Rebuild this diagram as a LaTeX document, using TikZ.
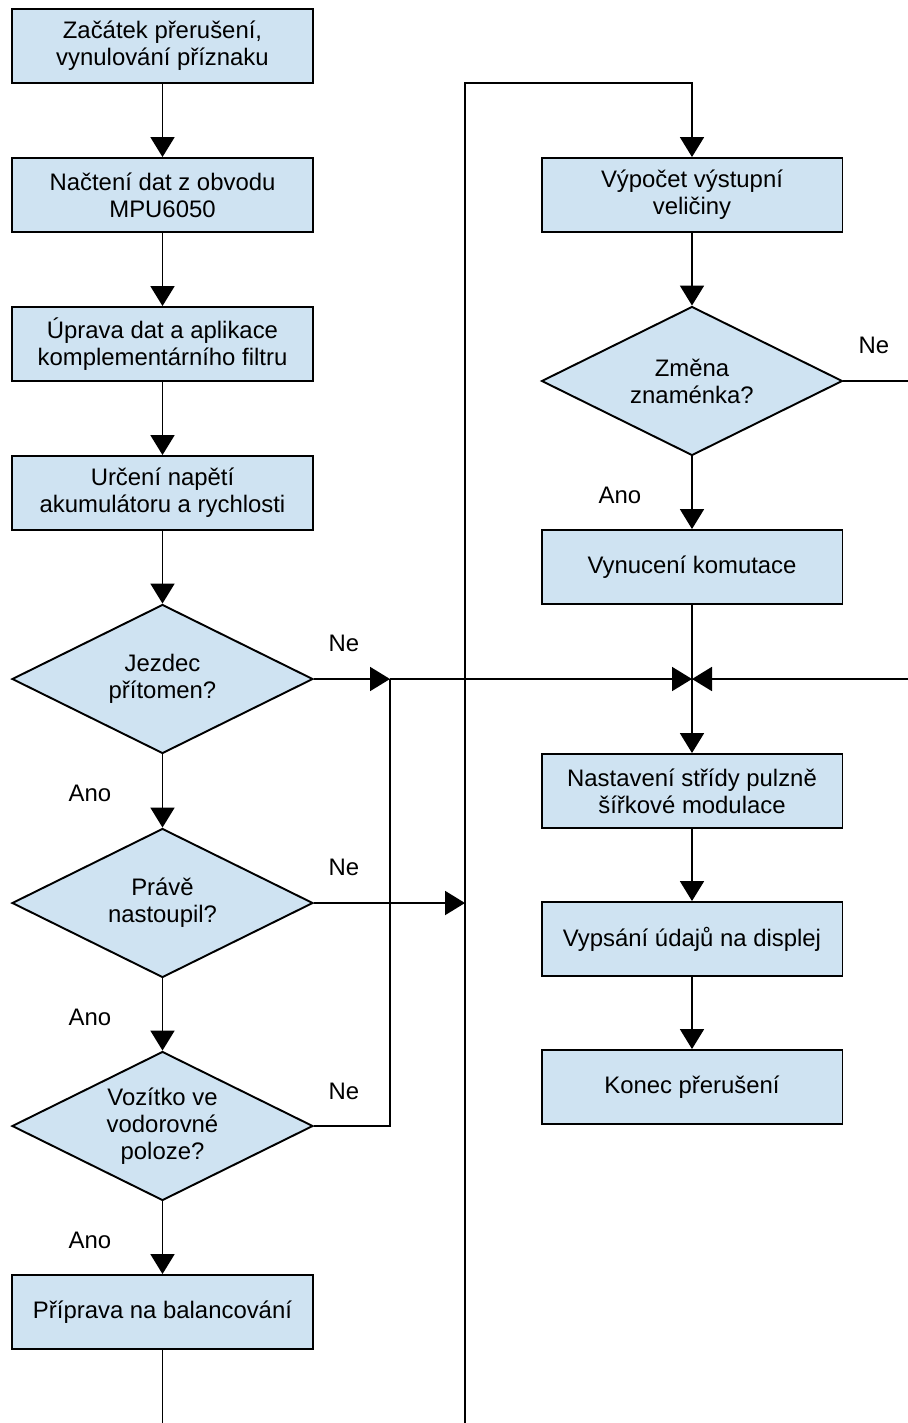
\documentclass[tikz,border=0pt]{standalone}
\usepackage{fontspec}
\setmainfont{Liberation Sans}
\usetikzlibrary{arrows.meta,shapes.geometric,positioning}
\definecolor{boxblue}{RGB}{207,227,242}
\newcommand{\boxfont}{\fontsize{13.6}{15.4}\selectfont}

\begin{document}
\begin{tikzpicture}[x=0.02cm,y=-0.02cm,>={Triangle[length=0.4cm,width=0.48cm]},line width=1.1pt,
box/.style={rectangle, draw, fill=boxblue, minimum width=6.02cm, minimum height=1.48cm, inner sep=0pt, align=center, font=\boxfont},
test/.style={diamond, draw, fill=boxblue, aspect=2, minimum width=6.02cm, minimum height=2.98cm, inner sep=0pt, align=center, font=\boxfont},
lbl/.style={font=\boxfont}]
\useasboundingbox (0,0) rectangle (908,1423);
% left column
\node (start) at (162.5,46) [box] {Začátek přerušení,\\vynulování příznaku};
\node (read) at (162.5,195) [box] {Načtení dat z obvodu\\MPU6050};
\node (filter) at (162.5,344) [box] {Úprava dat a aplikace\\komplementárního filtru};
\node (volt) at (162.5,493) [box] {Určení napětí\\akumulátoru a rychlosti};
\node (rider) at (162.5,679) [test] {Jezdec\\přítomen?};
\node (new) at (162.5,903) [test] {Právě\\nastoupil?};
\node (level) at (162.5,1126) [test] {Vozítko ve\\vodorovné\\poloze?};
\node (prep) at (162.5,1312) [box] {Příprava na balancování};
% right column
\node (calc) at (692,195) [box] {Výpočet výstupní\\veličiny};
\node (sign) at (692,381) [test] {Změna\\znaménka?};
\node (comm) at (692,567) [box] {Vynucení komutace};
\node (pwm) at (692,791) [box] {Nastavení střídy pulzně\\šířkové modulace};
\node (disp) at (692,939) [box] {Vypsání údajů na displej};
\node (stop) at (692,1087) [box] {Konec přerušení};
\coordinate (bot1) at (162.5,1423);
\coordinate (bot2) at (465,1423);
\coordinate (top) at (465,83);
\coordinate (fork) at (390,679);
\coordinate (join) at (692,679);
\coordinate (hit) at (465,903);
\coordinate (edge1) at (908,381);
\coordinate (edge2) at (908,679);
\node[lbl] (ne1) at (344,643) {Ne};
\node[lbl] (ne2) at (344,867) {Ne};
\node[lbl] (ne3) at (344,1091) {Ne};
\node[lbl] (ne4) at (874,345) {Ne};
\node[lbl] (ano1) at (90,793) {Ano};
\node[lbl] (ano2) at (90,1017) {Ano};
\node[lbl] (ano3) at (90,1240) {Ano};
\node[lbl] (ano4) at (620,495) {Ano};
\begin{scope}[->]
\draw (start)--(read);
\draw (read)--(filter);
\draw (filter)--(volt);
\draw (volt)--(rider);
\draw (rider)--(new);
\draw (new)--(level);
\draw (level)--(prep);
\draw (rider.east)--(fork);
\draw (fork)--(join);
\draw (new.east)--(hit);
\draw (bot2)--(top)-|(calc);
\draw (calc)--(sign);
\draw (sign)--(comm);
\draw (edge2)--(join);
\draw (join)--(pwm);
\draw (pwm)--(disp);
\draw (disp)--(stop);
\draw [-](level.east)-|(fork);
\draw [-](comm)--(join);
\draw [-](sign.east)--(edge1);
\draw [-](prep)--(bot1);
\end{scope}
\end{tikzpicture}
\end{document}
